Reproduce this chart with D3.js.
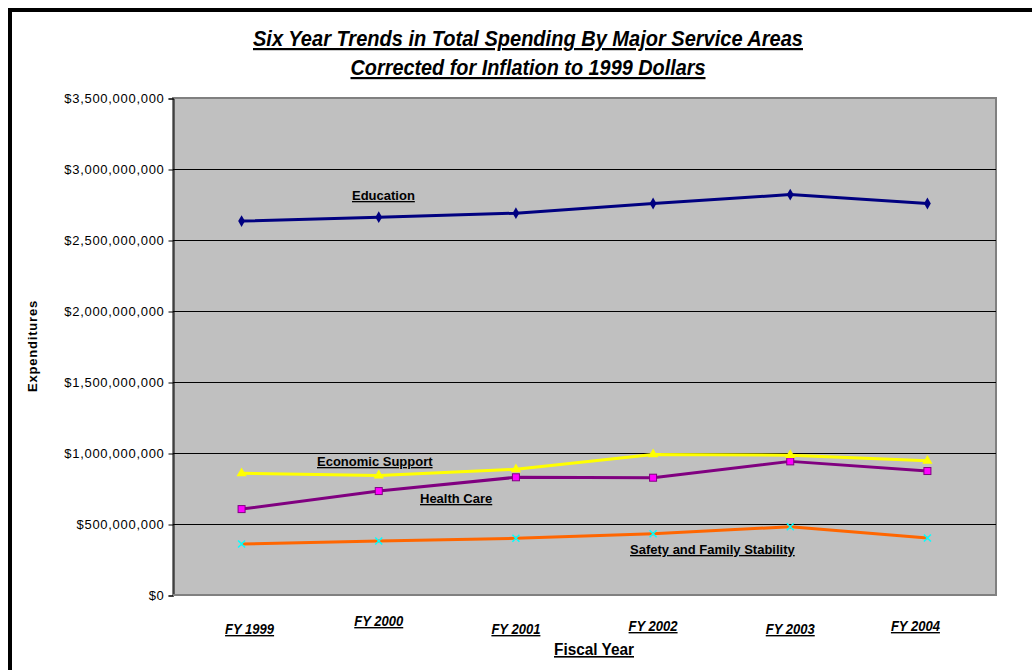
<!DOCTYPE html>
<html>
<head>
<meta charset="utf-8">
<script src="https://cdn.jsdelivr.net/npm/d3@7"></script>
<style>
  html, body { margin: 0; padding: 0; background: #fff; }
  svg { display: block; }
</style>
</head>
<body>
<svg id="chart" width="1032" height="670"></svg>
<script>
// ---- data ----
const categories = ["FY 1999", "FY 2000", "FY 2001", "FY 2002", "FY 2003", "FY 2004"];
const education = [2633e6, 2661e6, 2689e6, 2757e6, 2820e6, 2757e6];
const economicSupport = [857e6, 842e6, 885e6, 990e6, 985e6, 945e6];
const healthCare = [605e6, 732e6, 829e6, 826e6, 941e6, 873e6];
const safetyFamily = [359e6, 380e6, 399e6, 432e6, 481e6, 401e6];
const yTicks = [0, 500e6, 1000e6, 1500e6, 2000e6, 2500e6, 3000e6, 3500e6];
const titleLines = ["Six Year Trends in Total Spending By Major Service Areas", "Corrected for Inflation to 1999 Dollars"];
const seriesNames = ["Education", "Economic Support", "Health Care", "Safety and Family Stability"];

const svg = d3.select("#chart");
const W = 1032, H = 670;
const plot = { left: 173, top: 98, right: 996, bottom: 595 };

// outer frame
svg.append("rect").attr("x", 10).attr("y", 10).attr("width", W + 20).attr("height", H + 20)
  .attr("fill", "#fff").attr("stroke", "#000").attr("stroke-width", 4);

const x = d3.scaleBand().domain(categories).range([plot.left, plot.right]);
const y = d3.scaleLinear().domain([0, 3500e6]).range([plot.bottom, plot.top]);
const cx = c => x(c) + x.bandwidth() / 2;

// plot background
svg.append("rect").attr("x", plot.left).attr("y", plot.top)
  .attr("width", plot.right - plot.left).attr("height", plot.bottom - plot.top)
  .attr("fill", "#C0C0C0").attr("stroke", "#808080").attr("stroke-width", 2);

// gridlines
svg.append("g").selectAll("line").data(yTicks.filter(v => v > 0 && v < 3500e6)).join("line")
  .attr("x1", plot.left).attr("x2", plot.right)
  .attr("y1", d => Math.round(y(d)) + 0.5).attr("y2", d => Math.round(y(d)) + 0.5)
  .attr("stroke", "#000").attr("stroke-width", 1);

// y axis
const fmt = v => "$" + d3.format(",")(v);
const yAxis = d3.axisLeft(y).tickValues(yTicks).tickFormat(fmt).tickSize(5).tickPadding(4);
const gy = svg.append("g").attr("transform", `translate(${plot.left + 0.5},0.5)`).call(yAxis);
gy.select(".domain").attr("stroke", "#000");
gy.selectAll(".tick line").attr("stroke", "#000");
gy.selectAll(".tick text").attr("font-family", "Liberation Sans, Arial, sans-serif")
  .attr("font-size", 13).attr("letter-spacing", 0.7).attr("fill", "#000");

// x axis line (bottom)
svg.append("line").attr("x1", plot.left).attr("x2", plot.right)
  .attr("y1", plot.bottom).attr("y2", plot.bottom).attr("stroke", "#808080").attr("stroke-width", 2);

// x tick labels (staggered)
const xOffsets = [8, 0, 8, 5, 8, 5];
const xLabelG = svg.append("g");
categories.forEach((c, i) => {
  xLabelG.append("text").attr("x", cx(c) + (i === 0 ? 8 : i === 5 ? -12 : 0)).attr("y", 626 + xOffsets[i])
    .attr("text-anchor", "middle")
    .attr("font-family", "Liberation Sans Narrow, Arial Narrow, Liberation Sans, sans-serif")
    .attr("font-size", 14).attr("font-weight", "bold").attr("font-style", "italic")
    .attr("text-decoration", "underline").attr("fill", "#000")
    .attr("textLength", 49).attr("lengthAdjust", "spacingAndGlyphs").text(c);
});

// axis titles
svg.append("text").attr("x", 594).attr("y", 655).attr("text-anchor", "middle")
  .attr("font-family", "Liberation Sans Narrow, Arial Narrow, Liberation Sans, sans-serif")
  .attr("font-size", 16).attr("font-weight", "bold").attr("text-decoration", "underline")
  .attr("fill", "#000").attr("textLength", 80).attr("lengthAdjust", "spacingAndGlyphs").text("Fiscal Year");
svg.append("text").attr("transform", "translate(37,346) rotate(-90)").attr("text-anchor", "middle")
  .attr("font-family", "Liberation Sans, Arial, sans-serif").attr("font-size", 13)
  .attr("font-weight", "bold").attr("letter-spacing", 0.8).attr("fill", "#000").text("Expenditures");

// title
const titleWidths = [550, 355];
titleLines.forEach((t, i) => {
  svg.append("text").attr("x", 528).attr("y", 46 + i * 29).attr("text-anchor", "middle")
    .attr("font-family", "Liberation Sans Narrow, Arial Narrow, Liberation Sans, sans-serif")
    .attr("font-size", 22).attr("font-weight", "bold").attr("font-style", "italic")
    .attr("text-decoration", "underline").attr("fill", "#000")
    .attr("textLength", titleWidths[i]).attr("lengthAdjust", "spacingAndGlyphs").text(t);
});

// series
const line = d3.line().x((d, i) => cx(categories[i])).y(d => y(d));
const series = [
  { name: seriesNames[3], data: safetyFamily, color: "#FF6600", marker: "x" },
  { name: seriesNames[2], data: healthCare, color: "#800080", marker: "square" },
  { name: seriesNames[1], data: economicSupport, color: "#FFFF00", marker: "triangle" },
  { name: seriesNames[0], data: education, color: "#000080", marker: "diamond" }
];
series.forEach(s => {
  svg.append("path").datum(s.data).attr("d", line).attr("fill", "none")
    .attr("stroke", s.color).attr("stroke-width", 3).attr("stroke-linejoin", "round");
  const g = svg.append("g");
  s.data.forEach((v, i) => {
    const px = cx(categories[i]), py = y(v);
    if (s.marker === "diamond") {
      g.append("path").attr("d", d3.symbol(d3.symbolDiamond, 40)()).attr("transform", `translate(${px},${py})`)
        .attr("fill", "#000080");
    } else if (s.marker === "triangle") {
      g.append("path").attr("d", d3.symbol(d3.symbolTriangle, 45)()).attr("transform", `translate(${px},${py})`)
        .attr("fill", "#FFFF00");
    } else if (s.marker === "square") {
      g.append("rect").attr("x", px - 3.5).attr("y", py - 3.5).attr("width", 7).attr("height", 7)
        .attr("fill", "#FF00FF").attr("stroke", "#800080").attr("stroke-width", 1);
    } else {
      g.append("path").attr("d", `M${px - 3.5},${py - 3.5}L${px + 3.5},${py + 3.5}M${px - 3.5},${py + 3.5}L${px + 3.5},${py - 3.5}`)
        .attr("stroke", "#00FFFF").attr("stroke-width", 1.5);
    }
  });
});

// series labels
const labelPos = [
  { name: seriesNames[0], x: 352, y: 200 },
  { name: seriesNames[1], x: 317, y: 466 },
  { name: seriesNames[2], x: 420, y: 503 },
  { name: seriesNames[3], x: 630, y: 554 }
];
labelPos.forEach(l => {
  svg.append("text").attr("x", l.x).attr("y", l.y)
    .attr("font-family", "Liberation Sans, Arial, sans-serif").attr("font-size", 13)
    .attr("font-weight", "bold").attr("text-decoration", "underline").attr("fill", "#000").text(l.name);
});
</script>
</body>
</html>
